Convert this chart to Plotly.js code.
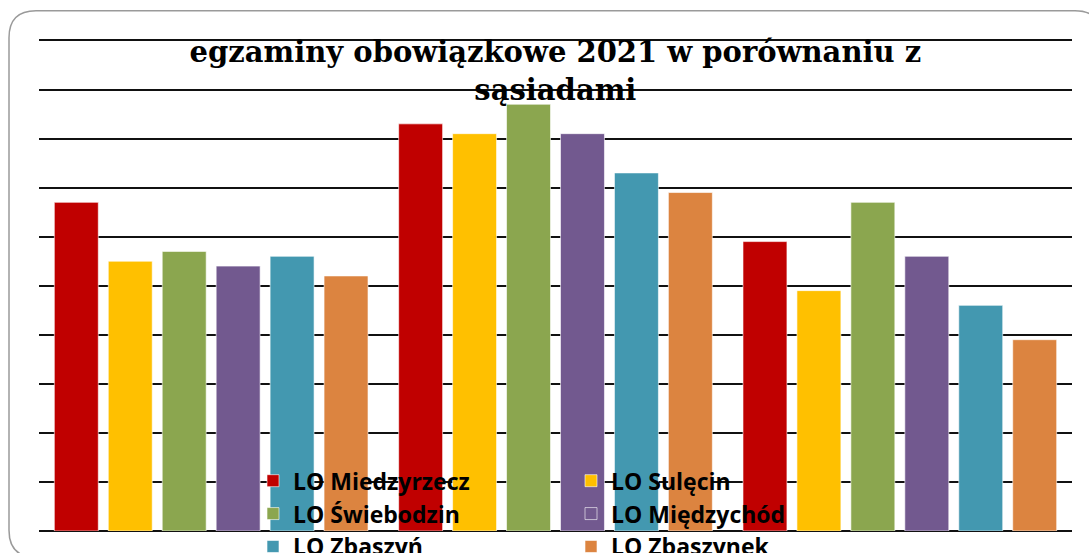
<!DOCTYPE html>
<html>
<head>
<meta charset="utf-8">
<script src="https://cdn.plot.ly/plotly-3.0.1.min.js"></script>
<style>
html,body{margin:0;padding:0;background:#fff;}
#chart{width:1089px;height:553px;}
</style>
</head>
<body>
<div id="chart"></div>
<script>
// Data
var categories = ["przedmiot 1", "przedmiot 2", "przedmiot 3"];
var schools = ["LO Miedzyrzecz", "LO Sulęcin", "LO Świebodzin", "LO Międzychód", "LO Zbaszyń", "LO Zbaszynek"];
var miedzyrzecz = [67, 83, 59];
var sulecin = [55, 81, 49];
var swiebodzin = [57, 87, 67];
var miedzychod = [54, 81, 56];
var zbaszyn = [56, 73, 46];
var zbaszynek = [52, 69, 39];
var titleText = "egzaminy obowiązkowe 2021 w porównaniu z<br>sąsiadami";

var seriesValues = [miedzyrzecz, sulecin, swiebodzin, miedzychod, zbaszyn, zbaszynek];
var colors = ["#C00000", "#FFC000", "#8BA64F", "#72598F", "#4398B0", "#DC8440"];

var traces = schools.map(function(name, i){
  return {
    type: "bar",
    name: name,
    x: categories,
    y: seriesValues[i],
    legend: (i % 2 === 0) ? "legend" : "legend2",
    legendgroup: "g" + i,
    marker: {color: colors[i], line: {color: "rgba(255,255,255,0.6)", width: 1}},
    hoverinfo: "name+y"
  };
});

// plot-area geometry (pixels)
var yTop = 100.3;
var plotL = 39, plotR = 1072, plotB = 530.7;
var plotT = plotB - yTop * 4.9;
var pw = plotR - plotL, ph = plotB - plotT;
function px(x){ return (x - plotL) / pw; }
function py(y){ return (plotB - y) / ph; }

// rounded border frame
var L = px(9), R = px(1102), T = py(11), B = py(557);
var rx = 27 / pw, ry = 27 / ph;
var framePath = "M " + (L+rx) + "," + T +
  " L " + (R-rx) + "," + T +
  " Q " + R + "," + T + " " + R + "," + (T-ry) +
  " L " + R + "," + (B+ry) +
  " Q " + R + "," + B + " " + (R-rx) + "," + B +
  " L " + (L+rx) + "," + B +
  " Q " + L + "," + B + " " + L + "," + (B+ry) +
  " L " + L + "," + (T-ry) +
  " Q " + L + "," + T + " " + (L+rx) + "," + T + " Z";

var legendFont = {family: "Open Sans", size: 23, color: "#000", weight: "bold"};
function legendAt(xpx){
  return {
    orientation: "v",
    x: px(xpx),
    xanchor: "left",
    y: py(459),
    yanchor: "top",
    bgcolor: "rgba(0,0,0,0)",
    font: legendFont,
    tracegroupgap: 1,
    traceorder: "normal"
  };
}

var layout = {
  width: 1089,
  height: 553,
  paper_bgcolor: "#ffffff",
  plot_bgcolor: "rgba(0,0,0,0)",
  margin: {l: plotL, r: 1089 - plotR, t: plotT, b: 553 - plotB, autoexpand: false},
  barmode: "group",
  bargap: 0.06,
  bargroupgap: 0.185,
  title: {
    text: titleText,
    font: {family: "DejaVu Serif", size: 29, color: "#000", weight: "bold"},
    x: 0.51,
    xanchor: "center",
    y: 0.887,
    yanchor: "top",
    yref: "container"
  },
  xaxis: {
    showticklabels: false,
    showgrid: false,
    zeroline: false,
    showline: false,
    ticks: ""
  },
  yaxis: {
    range: [0, yTop],
    tick0: 0,
    dtick: 10,
    showticklabels: false,
    showgrid: true,
    gridcolor: "#111111",
    gridwidth: 2,
    zeroline: true,
    zerolinecolor: "#111111",
    zerolinewidth: 2,
    showline: false,
    ticks: ""
  },
  legend: legendAt(253),
  legend2: legendAt(571),
  shapes: [{
    type: "path",
    xref: "paper",
    yref: "paper",
    path: framePath,
    line: {color: "#9a9a9a", width: 1.5},
    fillcolor: "rgba(0,0,0,0)",
    layer: "below"
  }],
  showlegend: true
};

Plotly.newPlot("chart", traces, layout, {displayModeBar: false, responsive: false});
</script>
</body>
</html>
